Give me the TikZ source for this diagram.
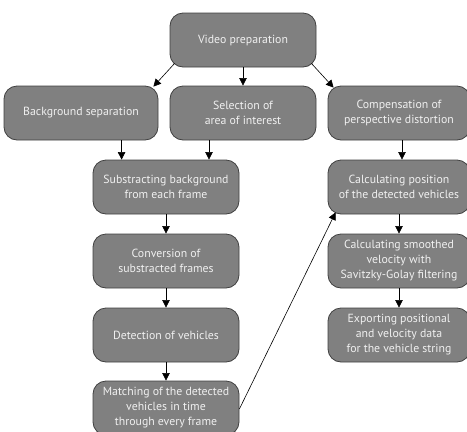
\documentclass[tikz,border=0pt]{standalone}
\usepackage{fontspec}
\setmainfont{PT Sans}
\usetikzlibrary{arrows.meta}

\begin{document}
\begin{tikzpicture}[x=1pt,y=-1pt,every node/.style={font=\fontsize{11.8}{15}\selectfont},
  stage/.style={draw=black!75,fill=black!50,text=white!94!black,rounded corners=13pt,
    line width=0.8pt,align=center,inner sep=1pt,minimum width=146pt,minimum height=54pt},
  flow/.style={-{Triangle[length=7.5pt,width=7.5pt]},line width=0.6pt}]
\useasboundingbox (0,0) rectangle (467,432);
% top
\node[stage] (vid) at (243,40) {Video preparation};
% second row
\node[stage,minimum width=154pt] (bgsep) at (81,113) {Background separation};
\node[stage] (roi) at (243,113) {Selection of\\area of interest};
\node[stage,minimum width=142pt] (persp) at (399,113) {Compensation of\\perspective distortion};
% left column
\node[stage] (subbg) at (166,187) {Substracting background\\from each frame};
\node[stage] (conv) at (166,261) {Conversion of\\substracted frames};
\node[stage] (detect) at (166,335) {Detection of vehicles};
\node[stage] (match) at (166,408) {Matching of the detected\\vehicles in time\\through every frame};
% right column
\node[stage,minimum width=142pt] (pos) at (399,187) {Calculating position\\of the detected vehicles};
\node[stage,minimum width=142pt] (vel) at (399,261) {Calculating smoothed\\velocity with\\Savitzky-Golay filtering};
\node[stage,minimum width=142pt] (export) at (399,335) {Exporting positional\\and velocity data\\for the vehicle string};
% arrows
\draw[flow] ([shift={(5,-4)}]vid.south west) -- ([shift={(-5,1)}]bgsep.north east);
\draw[flow] (vid) -- (roi);
\draw[flow] ([shift={(-5,-4)}]vid.south east) -- ([shift={(6,2)}]persp.north west);
\draw[flow] (bgsep.south -| subbg.south west) ++(29,0) coordinate (a1) (a1) -- (a1 |- subbg.north);
\draw[flow] ([xshift=-34pt]roi.south) -- ([xshift=43pt]subbg.north);
\draw[flow] ([xshift=3pt]persp.south) -- ([xshift=3pt]pos.north);
\draw[flow] (subbg) -- (conv);
\draw[flow] (conv) -- (detect);
\draw[flow] (detect) -- (match);
\draw[flow] (pos) -- (vel);
\draw[flow] (vel) -- (export);
\draw[flow] ([yshift=-1pt]match.east) -- ([shift={(8,-2)}]pos.south west);
\end{tikzpicture}
\end{document}
